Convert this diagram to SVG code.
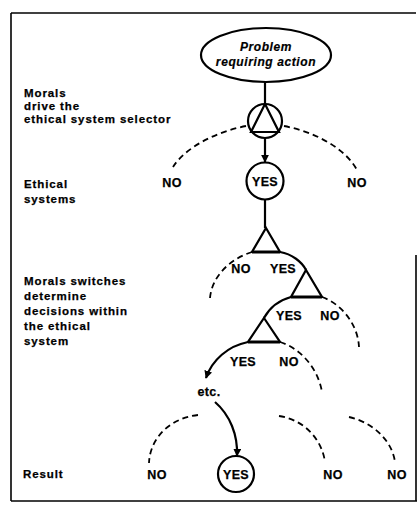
<svg xmlns="http://www.w3.org/2000/svg" width="419" height="508" viewBox="0 0 419 508">
<defs>
<style>
.lbl{font-family:"Liberation Sans",Arial,sans-serif;font-weight:bold;font-size:11.5px;letter-spacing:0.9px;fill:#000;stroke:#000;stroke-width:0.25}
.tl{font-family:"Liberation Sans",Arial,sans-serif;font-weight:bold;font-size:12.5px;letter-spacing:0.4px;fill:#000;stroke:#000;stroke-width:0.25;text-anchor:middle}
.it{font-family:"Liberation Sans",Arial,sans-serif;font-weight:bold;font-style:italic;font-size:12px;letter-spacing:0.6px;fill:#000;stroke:#000;stroke-width:0.2;text-anchor:middle}
.sol{fill:none;stroke:#000;stroke-width:2.2}
.dash{fill:none;stroke:#000;stroke-width:1.8;stroke-dasharray:6 4}
.shape{fill:#fff;stroke:#000;stroke-width:2.2}
</style>
<marker id="ah" viewBox="0 0 10 10" refX="9" refY="5" markerWidth="8" markerHeight="8" markerUnits="userSpaceOnUse" orient="auto">
<path d="M0,0 L10,5 L0,10 z" fill="#000"/>
</marker>
</defs>
<rect width="419" height="508" fill="#fff"/>
<g id="frame" fill="none" stroke="#000" stroke-width="1.6">
<line x1="11" y1="13" x2="416" y2="13"/>
<line x1="11" y1="13" x2="11" y2="501"/>
<line x1="11" y1="501" x2="417" y2="501"/>
<line x1="416" y1="255" x2="416" y2="501"/>
</g>
<g id="side-labels">
<text class="lbl" x="24" y="97">Morals</text>
<text class="lbl" x="24" y="110">drive the</text>
<text class="lbl" x="24" y="123">ethical system selector</text>
<text class="lbl" x="24" y="188">Ethical</text>
<text class="lbl" x="24" y="203">systems</text>
<text class="lbl" x="24" y="285">Morals switches</text>
<text class="lbl" x="24" y="300">determine</text>
<text class="lbl" x="24" y="315">decisions within</text>
<text class="lbl" x="24" y="330">the ethical</text>
<text class="lbl" x="24" y="345">system</text>
<text class="lbl" x="23" y="478">Result</text>
</g>
<g id="connectors">
<line class="sol" x1="265" y1="82" x2="265" y2="104"/>
<line class="sol" x1="265" y1="138" x2="265" y2="162" marker-end="url(#ah)"/>
<path class="dash" d="M246,126 C215,132 185,148 173,167"/>
<path class="dash" d="M284,126 C315,132 345,148 357,170"/>
<line class="sol" x1="265" y1="200" x2="265" y2="228"/>
<path class="dash" d="M252,252 C232,258 212,275 210,298"/>
<path class="sol" d="M280,252 C292,254 302,262 306,270"/>
<path class="dash" d="M322,297 C342,304 358,325 359,347"/>
<path class="sol" d="M291,297 C280,300 270,307 264,318"/>
<path class="sol" d="M248,342 C228,346 212,360 206,378" marker-end="url(#ah)"/>
<path class="dash" d="M280,342 C300,348 318,368 322,392"/>
<path class="sol" d="M215,402 C230,415 238,435 237,456" marker-end="url(#ah)"/>
<path class="dash" d="M198,415 C170,418 150,438 149,463"/>
<path class="dash" d="M279,416 C305,420 322,440 325,462"/>
<path class="dash" d="M349,417 C372,422 392,440 395,462"/>
</g>
<g id="problem">
<ellipse class="shape" cx="266" cy="55" rx="65" ry="27"/>
<text class="it" x="266" y="51">Problem</text>
<text class="it" x="266" y="66">requiring action</text>
</g>
<g id="selector">
<circle class="shape" cx="265" cy="121" r="17"/>
<path class="sol" d="M265,104 L279,132 L251,132 Z"/>
</g>
<g id="no-left-1"><text class="tl" x="172" y="187">NO</text></g>
<g id="yes-1">
<circle class="shape" cx="265" cy="181" r="18.5"/>
<text class="tl" x="265" y="186">YES</text>
</g>
<g id="no-right-1"><text class="tl" x="357" y="187">NO</text></g>
<g id="switch-1">
<path class="sol" d="M266,228 L280,252 L252,252 Z"/>
<line x1="252" y1="252" x2="280" y2="252" stroke="#000" stroke-width="3"/>
<text class="tl" x="241" y="273">NO</text>
<text class="tl" x="283" y="273">YES</text>
</g>
<g id="switch-2">
<path class="sol" d="M306,270 L322,297 L291,297 Z"/>
<line x1="291" y1="297" x2="322" y2="297" stroke="#000" stroke-width="3"/>
<text class="tl" x="289" y="320">YES</text>
<text class="tl" x="330" y="320">NO</text>
</g>
<g id="switch-3">
<path class="sol" d="M264,318 L280,342 L248,342 Z"/>
<line x1="248" y1="342" x2="280" y2="342" stroke="#000" stroke-width="3"/>
<text class="tl" x="243" y="366">YES</text>
<text class="tl" x="289" y="366">NO</text>
</g>
<g id="etc"><text class="tl" x="209" y="396">etc.</text></g>
<g id="results">
<text class="tl" x="157" y="479">NO</text>
<circle class="shape" cx="236" cy="474" r="18"/>
<text class="tl" x="236" y="478.5">YES</text>
<text class="tl" x="333" y="479">NO</text>
<text class="tl" x="397" y="479">NO</text>
</g>
</svg>
